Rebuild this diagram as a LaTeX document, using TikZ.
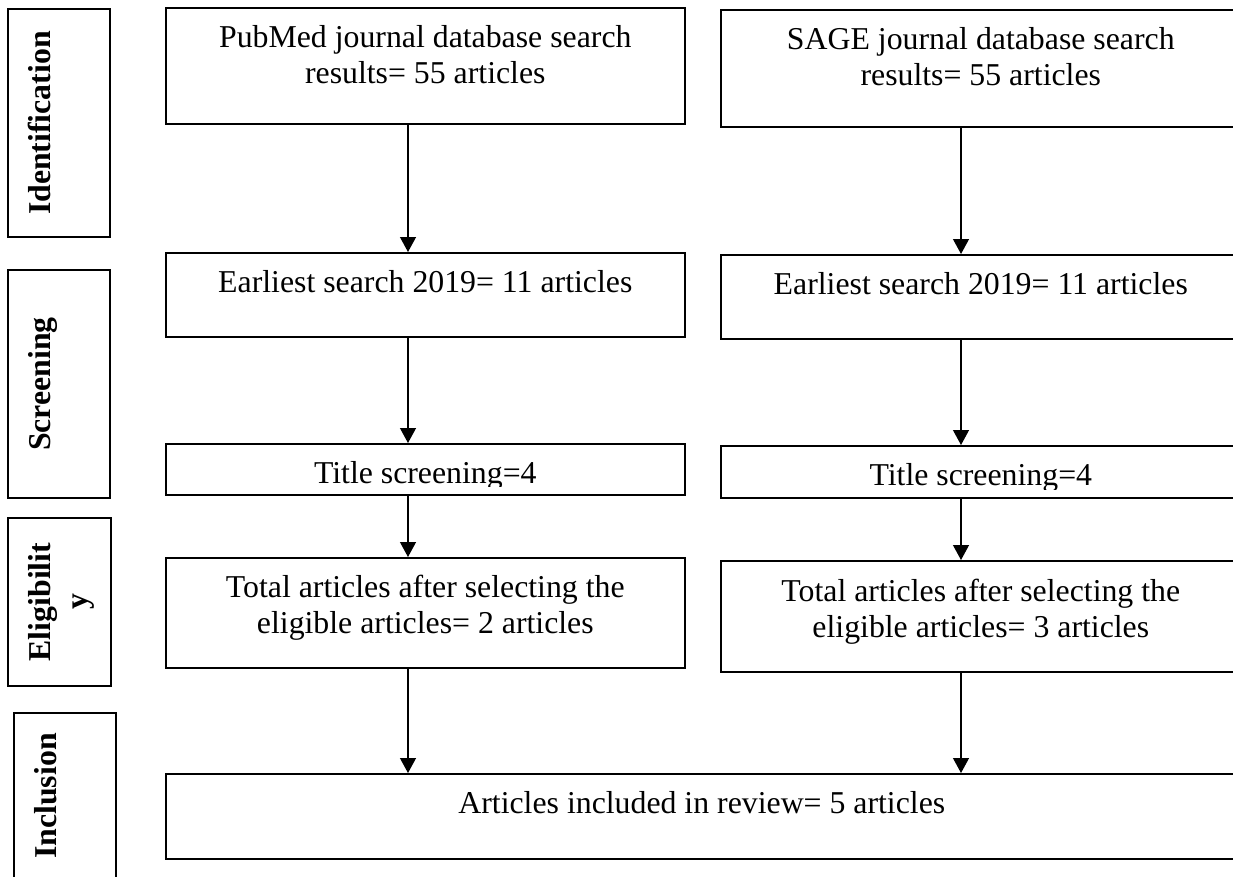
\documentclass[tikz,border=0pt]{standalone}
\usepackage{fontspec}
\setmainfont{Liberation Serif}
\usetikzlibrary{arrows.meta}
\newcommand\pu{0.02cm}

\begin{document}
\begin{tikzpicture}[x=0.02cm,y=-0.02cm]
      \tikzstyle{box}=[draw,line width=0.9pt,inner sep=0pt,anchor=north west,align=center,text height=40*\pu,font=\fontsize{18.1pt}{20.5pt}\selectfont]
      \tikzstyle{phase}=[draw,line width=0.9pt,inner sep=0pt,rotate=90,align=center,text height=42*\pu,font=\fontsize{18.1pt}{20.5pt}\selectfont\bfseries]
      \tikzstyle{arr}=[-{Triangle[length=0.3cm,width=0.32cm]},line width=0.7pt]
      \useasboundingbox (0,0) rectangle (1233,876);
      \clip (0,0) rectangle (1233,876);
      % phases
      \node[phase,minimum width=228*\pu,text depth=60*\pu] (ident) at (59,123) {Identification};
      \node[phase,minimum width=228*\pu,text depth=60*\pu] (screen) at (59,384) {Screening};
      \node[phase,minimum width=168*\pu,text height=79*\pu,text depth=24*\pu] (elig) at (59.5,602) {Eligibilit\\y};
      \node[phase,minimum width=166*\pu,text depth=60*\pu] (incl) at (65,796) {Inclusion};
      % pubmed column (two-line boxes: text height to the last line)
      \node[box,minimum width=519*\pu,text height=76*\pu,text depth=40*\pu] (pub) at (165,7) {PubMed journal database search\\results= 55 articles};
      \node[box,minimum width=519*\pu,text depth=44*\pu] (early1) at (165,252) {Earliest search 2019= 11 articles};
      \node[box,minimum width=519*\pu,text depth=11*\pu] (title1) at (165,443) {Title screening=4};
      \node[box,minimum width=519*\pu,text height=76*\pu,text depth=34*\pu] (total1) at (165,557) {Total articles after selecting the\\eligible articles= 2 articles};
      % sage column
      \node[box,minimum width=520*\pu,text height=76*\pu,text depth=41*\pu] (sage) at (720,9) {SAGE journal database search\\results= 55 articles};
      \node[box,minimum width=520*\pu,text depth=44*\pu] (early2) at (720,254) {Earliest search 2019= 11 articles};
      \node[box,minimum width=520*\pu,text depth=12*\pu] (title2) at (720,445) {Title screening=4};
      \node[box,minimum width=520*\pu,text height=77*\pu,text depth=34*\pu] (total2) at (720,560) {Total articles after selecting the\\eligible articles= 3 articles};
      \node[box,minimum width=1072*\pu,text depth=45*\pu] (review) at (165,773) {Articles included in review= 5 articles};
      % cut descenders of the title boxes
      \fill[white] ([shift={(1.5,-1.5)}]title1.south west) rectangle ([shift={(-1.5,-9)}]title1.south east);
      \fill[white] ([shift={(1.5,-1.5)}]title2.south west) rectangle ([shift={(-1.5,-9)}]title2.south east);
      \coordinate (cl) at (408,0);
      \coordinate (cr) at (961,0);
      \draw[arr] (pub.south -| cl) -- (early1.north -| cl);
      \draw[arr] (early1.south -| cl) -- (title1.north -| cl);
      \draw[arr] (title1.south -| cl) -- (total1.north -| cl);
      \draw[arr] (total1.south -| cl) -- (review.north -| cl);
      \draw[arr] (sage.south -| cr) -- (early2.north -| cr);
      \draw[arr] (early2.south -| cr) -- (title2.north -| cr);
      \draw[arr] (title2.south -| cr) -- (total2.north -| cr);
      \draw[arr] (total2.south -| cr) -- (review.north -| cr);
    \end{tikzpicture}
\end{document}
